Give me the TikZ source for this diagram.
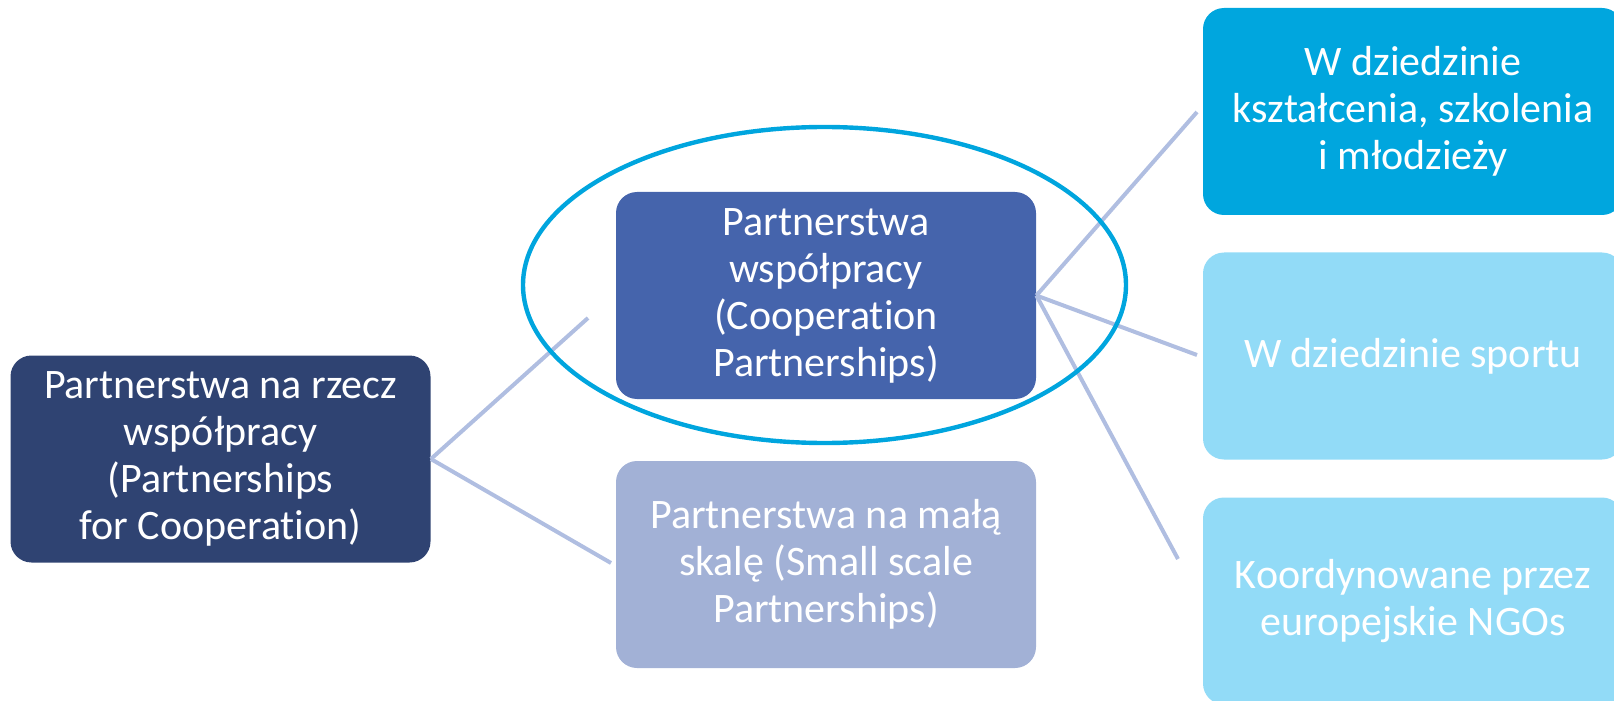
\documentclass[tikz,border=0pt]{standalone}
\usepackage{fontspec}
\setmainfont{Carlito}[Ligatures={NoCommon}]
\usetikzlibrary{shapes.geometric}
\definecolor{navy}{HTML}{2F4372}
\definecolor{coopblue}{HTML}{4564AC}
\definecolor{smallblue}{HTML}{A2B1D6}
\definecolor{linkblue}{HTML}{B0BEE1}
\definecolor{ringcyan}{HTML}{00A5DE}
\definecolor{educyan}{HTML}{00A6DE}
\definecolor{paleblue}{HTML}{92DBF7}

\tikzset{
  box/.style={rectangle, rounded corners=10.5pt, text=white, align=center,
              inner sep=0pt, minimum width=210pt, minimum height=103.5pt,
              font=\fontsize{21}{23.5}\selectfont},
  link/.style={draw=linkblue, line width=2pt}
}

\begin{document}
\begin{tikzpicture}[x=0.5pt, y=-0.5pt]
\useasboundingbox (0,0) rectangle (1614,701);

% wolne końce połączeń
\coordinate (coopin) at (588,318);
\coordinate (smallin) at (611,563);
\coordinate (eduin) at (1197,112);
\coordinate (sportin) at (1197,355);
\coordinate (ngoin) at (1178,559);

% poziom 1
\node [box, fill=navy] at (220.5,459) (root)
    {Partnerstwa na rzecz\\współpracy\\(Partnerships\\for Cooperation)};

% poziom 2
\node [box, fill=coopblue] at (826,295.5) (coop)
    {Partnerstwa\\współpracy\\(Cooperation\\Partnerships)};
\node [box, fill=smallblue] at (826,564.5) (small)
    {Partnerstwa na małą\\skalę (Small scale\\Partnerships)};

% poziom 3
\node [box, fill=educyan] at (1413,111.5) (edu)
    {W dziedzinie\\kształcenia, szkolenia\\i młodzieży};
\node [box, fill=paleblue] at (1413,356) (sport)
    {W dziedzinie sportu};
\node [box, fill=paleblue] at (1413,601) (ngo)
    {Koordynowane przez\\europejskie NGOs};

% połączenia
\draw[link] (root.east) -- (coopin);
\draw[link] (root.east) -- (smallin);
\draw[link] (coop.east) -- (eduin);
\draw[link] (coop.east) -- (sportin);
\draw[link] (coop.east) -- (ngoin);

% wyróżnienie
\node [ellipse, draw=ringcyan, line width=2.2pt, inner sep=0pt,
       minimum width=301.5pt, minimum height=158pt] at (824.5,285) (focus) {};
\end{tikzpicture}
\end{document}
